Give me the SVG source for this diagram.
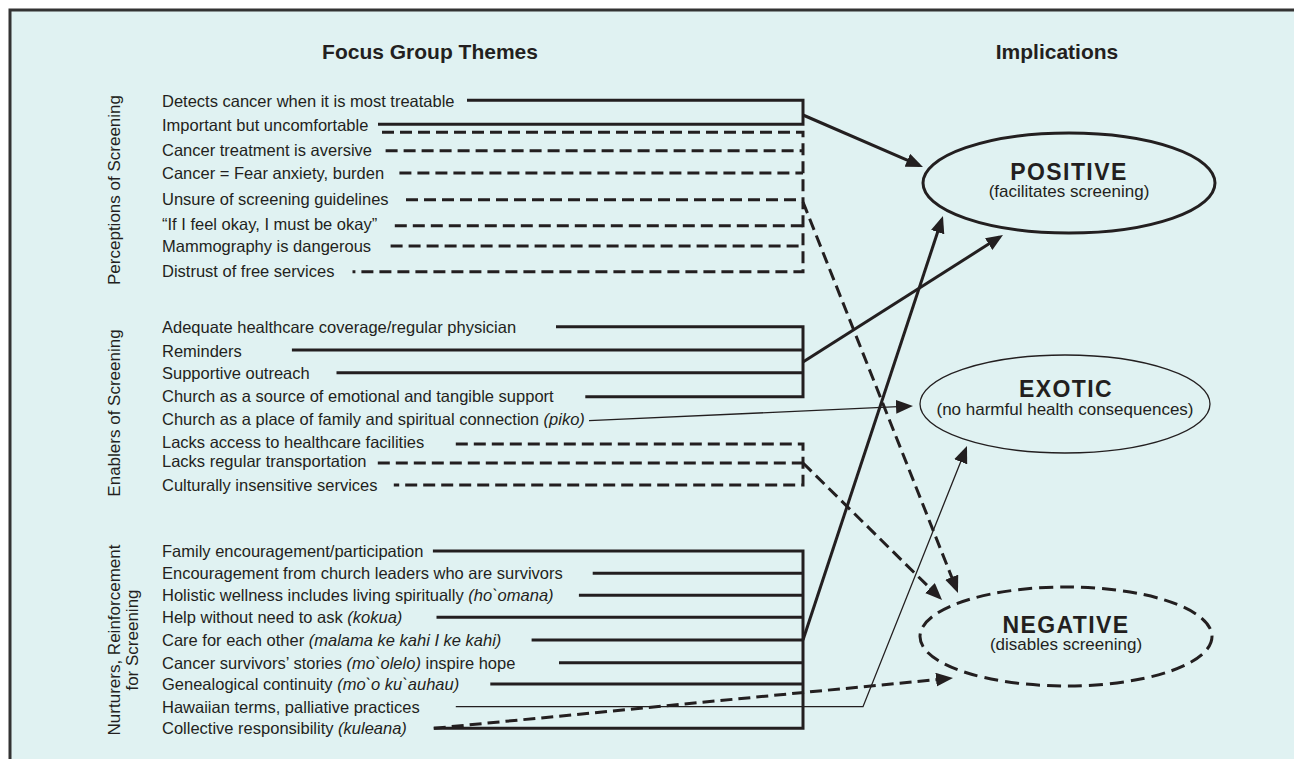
<svg xmlns="http://www.w3.org/2000/svg" width="1294" height="759" viewBox="0 0 1294 759">
<style>
text { font-family: "Liberation Sans", Arial, Helvetica, sans-serif; fill: #231f20; }
.item { font-size: 16.5px; }
.it { font-style: italic; }
.cat { font-size: 17px; text-anchor: middle; }
.hdr { font-size: 21px; font-weight: bold; text-anchor: middle; }
.big { font-size: 23px; font-weight: bold; letter-spacing: 1.4px; text-anchor: middle; }
.sub { font-size: 17px; text-anchor: middle; }
.s { stroke: #231f20; stroke-width: 3; fill: none; }
.d { stroke-dasharray: 12 6; }
.thin { stroke-width: 1.3; }
.ell { fill: none; stroke: #231f20; }
</style>
<defs>
<marker id="ah" markerUnits="userSpaceOnUse" markerWidth="17" markerHeight="14" refX="13" refY="7" orient="auto">
<path d="M0,0 L17,7 L0,14 z" fill="#231f20"/>
</marker>
</defs>
<rect x="10" y="10" width="1300" height="770" fill="#e0f2f2" stroke="#333333" stroke-width="3"/>

<g id="headers">
<text class="hdr" x="430" y="59">Focus Group Themes</text>
<text class="hdr" x="1057" y="59">Implications</text>
</g>

<g id="categories">
<text class="cat" transform="translate(120,190) rotate(-90)">Perceptions of Screening</text>
<text class="cat" transform="translate(120,413) rotate(-90)">Enablers of Screening</text>
<text class="cat" transform="translate(120,640) rotate(-90)">Nurturers, Reinforcement</text>
<text class="cat" transform="translate(138,640) rotate(-90)">for Screening</text>
</g>

<g id="perceptions">
<text class="item" x="162" y="107">Detects cancer when it is most treatable</text>
<text class="item" x="162" y="131">Important but uncomfortable</text>
<text class="item" x="162" y="156">Cancer treatment is aversive</text>
<text class="item" x="162" y="179">Cancer = Fear anxiety, burden</text>
<text class="item" x="162" y="205">Unsure of screening guidelines</text>
<text class="item" x="162" y="230">“If I feel okay, I must be okay”</text>
<text class="item" x="162" y="252">Mammography is dangerous</text>
<text class="item" x="162" y="277">Distrust of free services</text>
</g>

<g id="enablers">
<text class="item" x="162" y="333">Adequate healthcare coverage/regular physician</text>
<text class="item" x="162" y="357">Reminders</text>
<text class="item" x="162" y="379">Supportive outreach</text>
<text class="item" x="162" y="402">Church as a source of emotional and tangible support</text>
<text class="item" x="162" y="425">Church as a place of family and spiritual connection <tspan class="it">(piko)</tspan></text>
<text class="item" x="162" y="448">Lacks access to healthcare facilities</text>
<text class="item" x="162" y="467">Lacks regular transportation</text>
<text class="item" x="162" y="491">Culturally insensitive services</text>
</g>

<g id="nurturers">
<text class="item" x="162" y="557">Family encouragement/participation</text>
<text class="item" x="162" y="579">Encouragement from church leaders who are survivors</text>
<text class="item" x="162" y="601">Holistic wellness includes living spiritually <tspan class="it">(ho`omana)</tspan></text>
<text class="item" x="162" y="623">Help without need to ask <tspan class="it">(kokua)</tspan></text>
<text class="item" x="162" y="646">Care for each other <tspan class="it">(malama ke kahi I ke kahi)</tspan></text>
<text class="item" x="162" y="669">Cancer survivors’ stories <tspan class="it">(mo`olelo)</tspan> inspire hope</text>
<text class="item" x="162" y="690">Genealogical continuity <tspan class="it">(mo`o ku`auhau)</tspan></text>
<text class="item" x="162" y="713">Hawaiian terms, palliative practices</text>
<text class="item" x="162" y="734">Collective responsibility <tspan class="it">(kuleana)</tspan></text>
</g>

<g id="positive">
<ellipse class="ell" cx="1069" cy="183" rx="146" ry="50" stroke-width="3"/>
<text class="big" x="1069" y="180">POSITIVE</text>
<text class="sub" x="1069" y="197">(facilitates screening)</text>
</g>

<g id="exotic">
<ellipse class="ell" cx="1065" cy="404" rx="145" ry="49" stroke-width="1.3"/>
<text class="big" x="1066" y="397">EXOTIC</text>
<text class="sub" x="1065" y="415">(no harmful health consequences)</text>
</g>

<g id="negative">
<ellipse class="ell" cx="1066" cy="636.5" rx="146" ry="49.5" stroke-width="3" stroke-dasharray="14 7"/>
<text class="big" x="1066" y="633">NEGATIVE</text>
<text class="sub" x="1066" y="650">(disables screening)</text>
</g>

<g id="connectors">
<!-- perceptions positive bracket -->
<path class="s" d="M467,100.3 H803 V124.3 H378"/>
<path class="s" d="M803,115 L919.3,165.4" marker-end="url(#ah)"/>
<!-- perceptions negative bracket -->
<path class="s d" d="M382,132.3 H803 V271.7 H352.5"/>
<path class="s d" d="M385.6,150.7 H803"/>
<path class="s d" d="M399.4,173 H803"/>
<path class="s d" d="M406,199.7 H803"/>
<path class="s d" d="M394.8,225.7 H803"/>
<path class="s d" d="M390.6,246 H803"/>
<path class="s d" d="M803,202 L956.5,589.3" marker-end="url(#ah)"/>
<!-- enablers positive bracket -->
<path class="s" d="M556,326.7 H803 V396.7 H585.3"/>
<path class="s" d="M291.9,350 H803"/>
<path class="s" d="M336.5,372.7 H803"/>
<path class="s" d="M803,362 L999.6,237.1" marker-end="url(#ah)"/>
<!-- piko to exotic -->
<path class="s thin" d="M589,420.7 L909,406.2" marker-end="url(#ah)"/>
<!-- enablers negative bracket -->
<path class="s d" d="M455.8,444 H803 V485 H393.8"/>
<path class="s d" d="M377.8,463 H803"/>
<path class="s d" d="M803,463 L939.2,597.2" marker-end="url(#ah)"/>
<!-- nurturers positive bracket -->
<path class="s" d="M432.9,551 H803 V728.3 H433.8"/>
<path class="s" d="M592.7,573.3 H803"/>
<path class="s" d="M578.9,595.3 H803"/>
<path class="s" d="M436.5,617.3 H803"/>
<path class="s" d="M531.6,640 H803"/>
<path class="s" d="M559,662.7 H803"/>
<path class="s" d="M490.3,684 H803"/>
<path class="s" d="M803,640 L941.7,219.8" marker-end="url(#ah)"/>
<!-- hawaiian terms to exotic -->
<path class="s thin" d="M455.8,706.7 H863 L965.5,449.7" marker-end="url(#ah)"/>
<!-- collective responsibility to negative -->
<path class="s d" d="M433.8,728.3 L949,678.4" marker-end="url(#ah)"/>
</g>
</svg>
